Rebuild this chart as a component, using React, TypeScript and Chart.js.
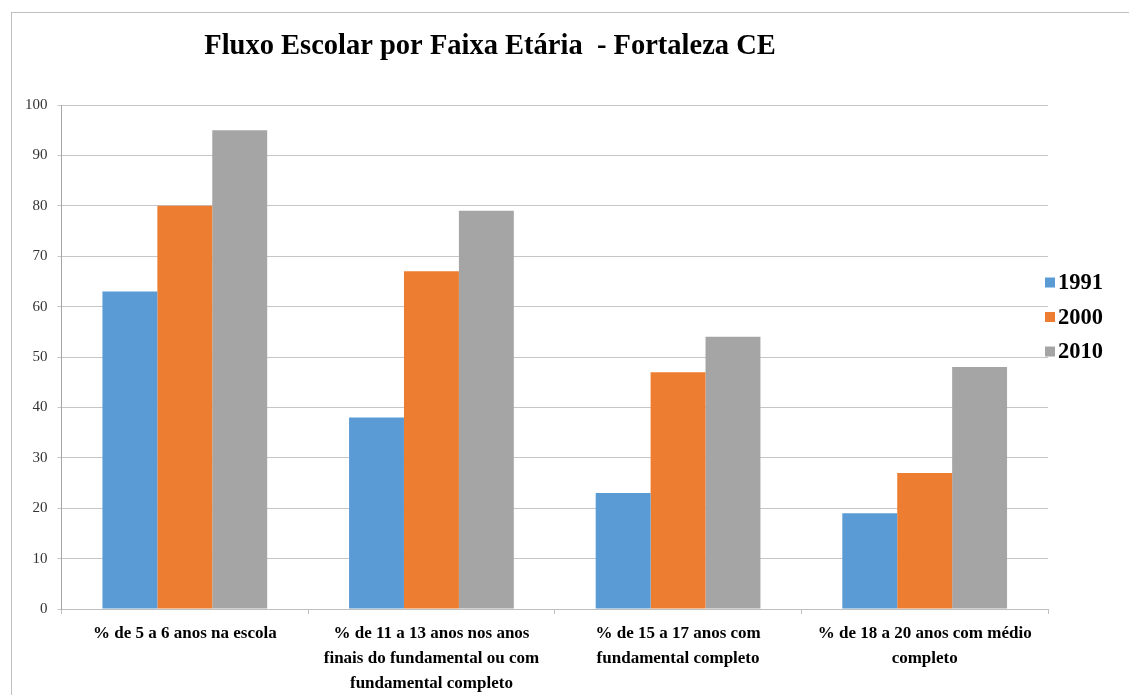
import { useEffect, useRef } from 'react';
import { Chart, registerables } from 'chart.js';

Chart.register(...registerables);

const categories: string[][] = [
  ['% de 5 a 6 anos na escola'],
  ['% de 11 a 13 anos nos anos', 'finais do fundamental ou com', 'fundamental completo'],
  ['% de 15 a 17 anos com', 'fundamental completo'],
  ['% de 18 a 20 anos com médio', 'completo'],
];
const seriesNames = ['1991', '2000', '2010'];
const values1991 = [63, 38, 23, 19];
const values2000 = [80, 67, 47, 27];
const values2010 = [95, 79, 54, 48];
const seriesColors = ['#5b9bd5', '#ed7d31', '#a5a5a5'];
const titleText = 'Fluxo Escolar por Faixa Etária  - Fortaleza CE';
const yMin = 0;
const yMax = 100;
const yStep = 10;

const FONT = '"Liberation Serif", "Times New Roman", serif';

const titlePlugin = {
  id: 'customTitle',
  afterDraw(chart: any) {
    const ctx = chart.ctx;
    ctx.save();
    ctx.font = `bold 28.5px ${FONT}`;
    ctx.fillStyle = '#000000';
    ctx.textAlign = 'center';
    ctx.textBaseline = 'alphabetic';
    ctx.fillText(titleText, 478, 41);
    ctx.restore();
  },
};

const legendPlugin = {
  id: 'customLegend',
  afterDraw(chart: any) {
    const ctx = chart.ctx;
    const area = chart.chartArea;
    const mid = (area.top + area.bottom) / 2;
    ctx.save();
    ctx.font = `bold 22.5px ${FONT}`;
    ctx.textBaseline = 'middle';
    ctx.textAlign = 'left';
    chart.data.datasets.forEach((ds: any, i: number) => {
      const cy = mid - 74.5 + i * 34.5;
      ctx.fillStyle = ds.backgroundColor;
      ctx.fillRect(area.right - 3, cy - 5, 10, 10);
      ctx.fillStyle = '#000000';
      ctx.fillText(ds.label, area.right + 10, cy + 1);
    });
    ctx.restore();
  },
};

export default function App() {
  const canvasRef = useRef<HTMLCanvasElement | null>(null);

  useEffect(() => {
    document.body.style.overflow = 'hidden';
    const canvas = canvasRef.current;
    if (!canvas) return;
    const chart = new Chart(canvas, {
      type: 'bar',
      data: {
        labels: categories,
        datasets: [
          { label: seriesNames[0], data: values1991, backgroundColor: seriesColors[0] },
          { label: seriesNames[1], data: values2000, backgroundColor: seriesColors[1] },
          { label: seriesNames[2], data: values2010, backgroundColor: seriesColors[2] },
        ],
      },
      options: {
        responsive: false,
        animation: false,
        devicePixelRatio: 1,
        layout: { padding: { top: 92, left: 3, right: 81, bottom: 0 } },
        datasets: {
          bar: { categoryPercentage: 0.668, barPercentage: 1 },
        },
        plugins: {
          legend: { display: false },
          title: { display: false },
          tooltip: { enabled: false },
        },
        scales: {
          x: {
            grid: {
              display: true,
              offset: true,
              drawOnChartArea: false,
              drawTicks: true,
              tickLength: 5,
              color: '#bfbfbf',
            },
            border: { display: true, color: '#bfbfbf' },
            ticks: {
              autoSkip: false,
              maxRotation: 0,
              minRotation: 0,
              padding: 7,
              color: '#000000',
              font: { family: FONT, size: 17, weight: 'bold', lineHeight: 1.47 },
            },
          },
          y: {
            min: yMin,
            max: yMax,
            grid: {
              color: '#c6c6c6',
              drawTicks: true,
              tickLength: 4,
            },
            border: { display: true, color: '#a6a6a6' },
            ticks: {
              stepSize: yStep,
              padding: 10,
              color: '#333333',
              font: { family: FONT, size: 15 },
            },
          },
        },
      },
      plugins: [titlePlugin, legendPlugin],
    });
    return () => chart.destroy();
  }, []);

  return (
    <div
      style={{
        position: 'fixed',
        left: 11,
        top: 12,
        width: 1130,
        height: 700,
        border: '1px solid #bfbfbf',
        background: '#ffffff',
      }}
    >
      <canvas
        ref={canvasRef}
        width={1117}
        height={690}
        style={{ position: 'absolute', left: 0, top: 0, width: 1117, height: 690 }}
      />
    </div>
  );
}
